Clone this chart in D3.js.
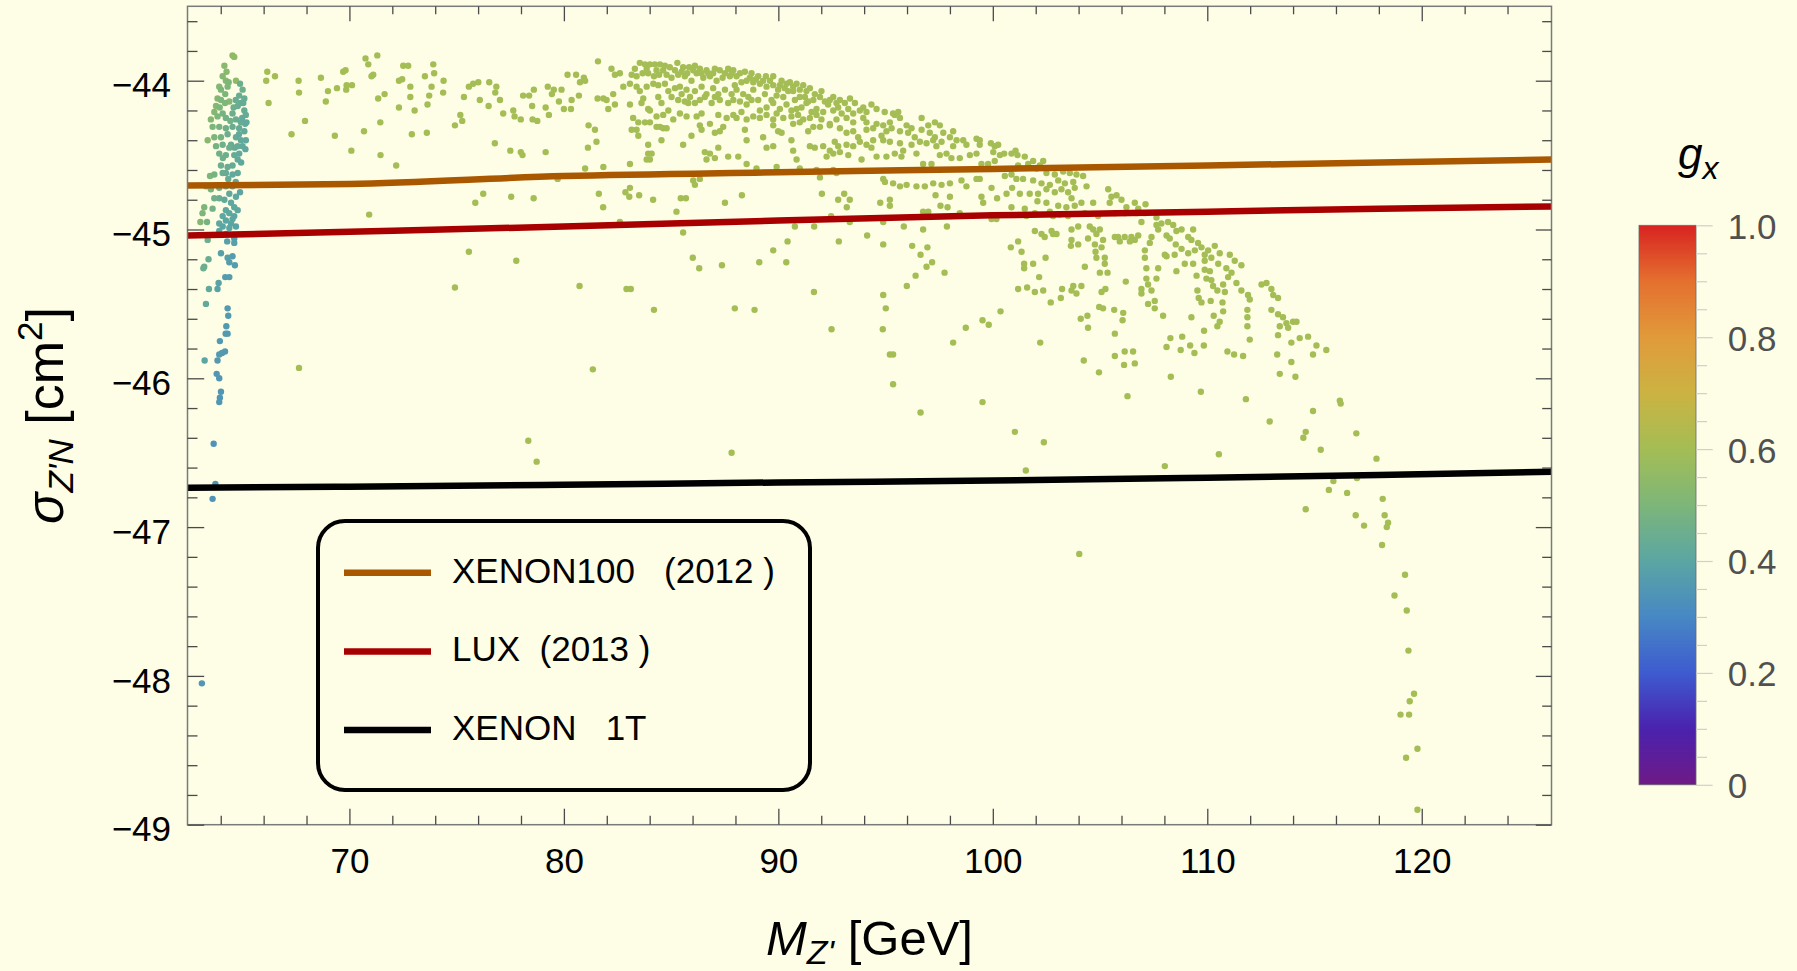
<!DOCTYPE html>
<html>
<head>
<meta charset="utf-8">
<script src="https://cdn.jsdelivr.net/npm/d3@7"></script>
<style>
  body { margin: 0; background: #fefee6; }
  svg { display: block; }
  text { font-family: "Liberation Sans", Arial, sans-serif; }
</style>
</head>
<body>
<svg id="chart" width="1797" height="971"></svg>
<script>
// axis ranges and ticks
const xRange = [62.45, 126.05];
const yRange = [-49, -43.5];
const xMajorTicks = [70, 80, 90, 100, 110, 120];
const yMajorTicks = [-44, -45, -46, -47, -48, -49];
const gTicks = [0, 0.2, 0.4, 0.6, 0.8, 1.0];
const gTickLabels = ["0", "0.2", "0.4", "0.6", "0.8", "1.0"];

// exclusion limits [M_Z' GeV, log10 sigma]
const xenon100 = [[62.45,-44.705],[70,-44.695],[80,-44.641],[90,-44.615],[100,-44.593],[110,-44.570],[118,-44.549],[126.05,-44.530]];
const lux2013 = [[62.45,-45.04],[70,-45.015],[80,-44.98],[90,-44.94],[100,-44.905],[110,-44.88],[118,-44.861],[126.05,-44.845]];
const xenon1t = [[62.45,-46.735],[70,-46.729],[80,-46.715],[90,-46.70],[100,-46.687],[110,-46.668],[118,-46.650],[126.05,-46.628]];
const legendNames = ["XENON100   (2012 )", "LUX  (2013 )", "XENON   1T"];

// scan points near the Z' ~ 2 m_chi region, [M, sigma, g_x]
const clusterPoints = [
  [64.55,-43.83,.55],[64.63,-43.84,.55],[64.17,-43.90,.53],[64.27,-43.94,.53],[64.09,-43.97,.52],[64.24,-44.00,.52],
  [64.37,-44.01,.5],[64.71,-44.00,.55],[63.93,-44.04,.52],[64.01,-44.06,.5],[64.32,-44.04,.5],[64.21,-44.09,.5],
  [63.85,-44.12,.52],[64.01,-44.13,.5],[64.40,-44.14,.52],[65.02,-44.06,.46],[64.86,-44.10,.44],[65.10,-44.12,.44],
  [64.94,-44.15,.43],[64.79,-44.17,.44],[65.10,-44.20,.43],[65.17,-44.23,.43],[63.78,-44.17,.52],[63.70,-44.21,.52],
  [63.54,-44.26,.52],[63.85,-44.24,.5],[64.09,-44.22,.48],[64.24,-44.25,.47],[64.55,-44.22,.45],[64.71,-44.26,.44],
  [64.94,-44.28,.43],[65.14,-44.29,.43],[63.62,-44.31,.5],[63.93,-44.31,.48],[64.24,-44.32,.46],[64.55,-44.31,.44],
  [64.86,-44.32,.43],[65.10,-44.34,.42],[63.39,-44.40,.53],[63.70,-44.38,.5],[64.01,-44.38,.48],[64.32,-44.36,.45],
  [64.71,-44.38,.43],[64.94,-44.40,.42],[65.17,-44.40,.42],[63.78,-44.44,.48],[64.09,-44.43,.46],[64.48,-44.43,.44],
  [64.79,-44.44,.43],[65.02,-44.44,.42],[63.93,-44.49,.46],[64.24,-44.50,.45],[64.63,-44.50,.43],[64.86,-44.49,.42],
  [64.01,-44.57,.45],[64.32,-44.58,.44],[64.55,-44.57,.43],[64.79,-44.53,.42],[64.24,-44.62,.43],[64.55,-44.63,.42],
  [64.79,-44.62,.42],[63.50,-44.64,.5],[63.70,-44.63,.48],[64.09,-44.62,.44],[63.31,-44.71,.5],[63.54,-44.73,.48],
  [63.93,-44.72,.45],[64.24,-44.71,.43],[64.55,-44.71,.42],[64.40,-44.76,.42],[63.93,-44.79,.44],[63.70,-44.79,.46],
  [64.71,-44.78,.41],[64.17,-44.80,.42],[64.48,-44.82,.41],[63.23,-44.85,.5],[63.62,-44.86,.47],[64.24,-44.87,.41],
  [64.63,-44.85,.41],[64.79,-44.87,.41],[64.40,-44.89,.41],[63.15,-44.89,.5],[64.09,-44.91,.41],[64.63,-44.91,.4],
  [64.24,-44.94,.4],[64.48,-44.96,.4],[63.93,-44.96,.41],[63.05,-44.95,.52],[63.36,-44.95,.48],[64.09,-44.98,.4],
  [64.40,-44.99,.4],[63.93,-45.01,.4],[64.71,-44.98,.39],[64.24,-45.03,.39],[64.63,-45.06,.38],[63.39,-45.07,.45],
  [64.63,-45.09,.38],[64.01,-45.16,.38],[64.32,-45.19,.38],[64.55,-45.18,.37],[63.43,-45.20,.44],[63.23,-45.25,.45],
  [63.19,-45.26,.45],[64.40,-45.22,.37],[64.66,-45.24,.37],[64.21,-45.32,.37],[64.40,-45.32,.37],[63.45,-45.40,.42],
  [63.85,-45.40,.39],[63.90,-45.36,.39],[63.31,-45.50,.42],[64.32,-45.53,.36],[64.35,-45.58,.36],[64.26,-45.65,.36],
  [64.32,-45.70,.36],[64.23,-45.70,.36],[63.96,-45.75,.36],[64.20,-45.82,.36],[64.06,-45.83,.36],[63.93,-45.84,.36],
  [63.25,-45.88,.4],[63.85,-45.88,.36],[63.81,-45.97,.35],[63.93,-46.00,.35],[64.01,-46.09,.35],[63.96,-46.13,.35],
  [63.93,-46.16,.35],[63.67,-46.44,.34],[63.75,-46.71,.34],[63.62,-46.81,.34],[63.12,-48.05,.35],
  [64.90,-44.02,.45],[65.05,-44.15,.43],[64.70,-44.13,.44],[65.20,-44.28,.42],[64.60,-44.18,.45],[65.00,-44.25,.42],
  [64.85,-44.36,.42],[65.15,-44.46,.41],[64.65,-44.45,.43],[64.95,-44.55,.41],[64.40,-44.45,.45],[64.70,-44.68,.41],
  [64.35,-44.66,.43],[64.90,-44.75,.40],[64.20,-44.15,.50],[64.45,-44.27,.47],[63.95,-44.18,.50],[64.10,-44.52,.46],
  [64.55,-44.93,.40],[64.30,-45.08,.38]
];

// all other points share one colour, g_x ~ 0.6
const mainG = 0.6;
const sparseLeft = [
  [66.17,-43.94],[66.12,-44.00],[66.53,-43.97],[66.23,-44.15],[67.30,-44.36],[67.63,-44.00],[67.65,-44.08],[67.93,-44.27],
  [67.65,-45.93],[68.67,-43.98],[69.00,-44.07],[68.90,-44.14],[69.42,-44.05],[69.32,-44.37],[69.71,-43.94],[69.82,-43.93],
  [69.87,-44.03],[69.85,-44.06],[70.12,-44.03],[70.09,-44.47],[70.68,-44.34],[70.75,-43.85],[70.88,-43.89],[71.30,-43.83],
  [70.92,-44.90],[71.03,-43.97],[71.11,-43.96],[71.34,-44.12],[71.64,-44.09],[71.44,-44.28],[71.45,-44.50],[72.18,-44.57],
  [72.31,-44.18],[72.31,-44.00],[72.46,-43.99],[72.51,-43.90],[72.74,-43.90],[72.84,-44.04],[72.84,-44.11],[73.04,-44.20],
  [72.91,-44.36],[73.61,-44.35],[73.52,-43.97],[73.64,-44.16],[73.72,-44.10],[73.83,-44.04],[73.91,-43.89],[73.95,-43.95],
  [74.39,-44.00],[74.37,-44.08],[74.92,-44.30],[75.17,-44.23],[75.26,-44.27],[75.34,-44.11],[75.57,-44.04],[75.77,-44.02],
  [76.01,-44.01],[76.08,-44.13],[76.49,-44.17],[76.52,-44.01],[76.85,-44.04],[76.80,-44.08],[76.78,-44.42],[77.02,-44.13],
  [77.17,-44.22],[77.50,-44.47],[77.64,-44.20],[77.70,-44.24],[77.99,-44.26],[77.99,-44.48],[78.07,-44.50],[78.10,-44.10],
  [78.38,-44.10],[78.60,-44.06],[78.52,-44.17],[78.54,-44.26],[78.76,-44.27],[79.15,-44.18],[79.25,-44.04],[79.30,-44.23],
  [79.15,-44.48],[79.44,-44.09],[79.53,-44.06],[79.77,-44.14],[79.89,-44.06],[80.00,-44.19],[80.17,-43.96],[80.36,-44.13],
  [80.33,-44.19],[80.57,-43.96],[80.70,-44.10],[80.75,-44.01],[80.93,-43.98],[80.99,-44.00],[80.99,-44.59],[81.12,-44.45],
  [81.15,-44.30],[81.45,-44.33],[81.52,-44.41],[81.59,-43.87],[81.57,-44.12],[79.71,-44.66],[75.87,-44.82],[76.24,-44.76],
  [77.54,-44.78],[78.59,-44.79],[75.57,-45.15],[77.78,-45.21],[74.92,-45.39],[80.73,-45.38],[81.35,-45.94],[78.34,-46.42],
  [78.73,-46.56]
];
const bandTop = [
  [82.22,-43.92],[82.38,-43.96],[82.61,-43.95],[83.54,-43.88],[83.78,-43.89],[84.01,-43.89],[84.24,-43.89],[84.48,-43.89],
  [84.71,-43.90],[84.94,-43.91],[85.29,-43.88],[85.56,-43.91],[85.84,-43.91],[86.11,-43.90],[86.34,-43.92],[86.65,-43.93],
  [87.04,-43.92],[87.27,-43.93],[87.66,-43.92],[87.90,-43.93],[88.21,-43.95],[88.44,-43.94],[88.75,-43.95],[89.06,-43.97],
  [89.42,-43.97],[89.76,-43.97],[90.15,-44.00],[90.54,-44.01],[90.85,-44.02],[91.16,-44.03],[91.47,-44.05],
  [83.16,-43.96],[83.39,-43.97],[83.67,-43.95],[83.93,-43.95],[84.20,-43.97],[84.44,-43.96],[84.79,-43.96],[85.02,-43.98],
  [85.33,-43.96],[85.64,-43.97],[85.95,-44.00],[86.19,-43.95],[86.50,-43.98],[86.81,-43.97],[87.12,-44.00],[87.40,-43.98],
  [87.74,-43.97],[87.97,-44.03],[88.28,-44.01],[88.52,-44.00],[88.83,-44.01],[89.14,-44.02],[89.45,-44.04],[89.76,-44.03],
  [89.99,-44.06],[90.30,-44.05],[90.69,-44.04],[91.00,-44.06],[91.24,-44.11],
  [82.77,-44.04],[83.08,-44.02],[83.39,-44.04],[83.54,-44.07],[83.86,-44.04],[84.17,-44.02],[84.40,-44.03],[84.71,-44.02],
  [84.87,-44.07],[85.18,-44.05],[85.41,-44.04],[85.72,-44.06],[85.88,-44.11],[86.11,-44.07],[86.42,-44.04],[86.65,-44.09],
  [86.96,-44.05],[87.20,-44.09],[87.51,-44.06],[87.82,-44.09],[88.05,-44.06],[88.36,-44.09],[88.60,-44.11],[88.83,-44.06],
  [89.06,-44.13],[89.37,-44.09],[89.68,-44.13],[89.92,-44.10],[90.23,-44.11],[90.46,-44.07],[90.77,-44.13],[91.00,-44.11],
  [91.39,-44.14],[91.63,-44.13],[91.94,-44.11],[92.17,-44.14],[92.40,-44.13],[92.87,-44.13],[93.10,-44.15],[93.57,-44.15],
  [93.96,-44.18],[94.34,-44.16],[94.58,-44.19],
  [81.84,-44.12],[81.99,-44.13],[82.30,-44.09],[82.38,-44.16],[82.07,-44.19],[83.08,-44.16],[83.70,-44.12],[83.93,-44.19],
  [84.01,-44.20],[84.40,-44.11],[85.02,-44.11],[85.33,-44.13],[85.64,-44.14],[85.80,-44.15],[86.34,-44.13],[86.57,-44.11],
  [86.89,-44.15],[87.27,-44.13],[87.66,-44.15],[87.90,-44.13],[88.21,-44.14],[88.52,-44.16],[89.14,-44.20],[89.45,-44.18],
  [89.76,-44.15],[90.07,-44.19],[90.38,-44.16],[90.61,-44.20],[91.08,-44.18],[91.31,-44.15],[91.78,-44.19],[92.09,-44.21],
  [92.56,-44.20],[92.79,-44.18],[93.26,-44.19],[93.49,-44.22],[93.80,-44.20],[94.11,-44.21],[94.96,-44.21],[95.35,-44.22],
  [95.59,-44.21],
  [83.23,-44.25],[83.47,-44.28],[83.78,-44.28],[84.01,-44.28],[84.32,-44.24],[84.48,-44.31],[84.63,-44.23],[84.87,-44.20],
  [85.10,-44.26],[85.41,-44.22],[85.72,-44.24],[86.19,-44.24],[86.42,-44.22],[86.34,-44.30],[86.81,-44.29],[87.20,-44.23],
  [87.43,-44.31],[87.59,-44.25],[87.90,-44.23],[88.05,-44.25],[88.28,-44.21],[88.52,-44.26],[88.83,-44.24],[89.14,-44.25],
  [89.45,-44.23],[89.76,-44.26],[89.92,-44.22],[90.23,-44.25],[90.61,-44.24],[90.92,-44.23],[91.16,-44.26],[91.47,-44.25],
  [91.78,-44.23],[92.01,-44.26],[92.40,-44.29],[92.71,-44.26],[92.95,-44.22],[93.18,-44.25],[93.49,-44.28],[93.96,-44.25],
  [94.11,-44.28],[94.58,-44.29],[94.89,-44.30],[95.20,-44.28],[95.43,-44.23],[95.67,-44.25],[95.98,-44.30],[96.21,-44.32],
  [96.68,-44.25],[96.99,-44.30],[97.30,-44.28],[97.53,-44.30],
  [83.16,-44.33],[83.39,-44.33],[83.47,-44.37],[84.32,-44.31],[84.63,-44.32],[84.79,-44.32],[85.95,-44.37],[86.42,-44.33],
  [87.04,-44.35],[87.27,-44.34],[88.44,-44.33],[88.52,-44.40],[89.29,-44.38],[89.76,-44.30],[89.99,-44.34],[90.15,-44.35],
  [90.69,-44.29],[91.00,-44.28],[91.39,-44.34],[91.63,-44.31],[91.94,-44.31],[92.40,-44.30],[92.87,-44.32],[93.18,-44.35],
  [93.49,-44.34],[93.72,-44.38],[94.11,-44.33],[94.42,-44.32],[94.81,-44.37],[95.04,-44.34],[95.28,-44.32],[95.67,-44.34],
  [96.05,-44.35],[96.36,-44.38],[96.68,-44.33],[97.06,-44.35],[97.30,-44.38],[97.69,-44.35],[98.00,-44.38],[98.15,-44.34],
  [98.31,-44.40],
  [84.55,-44.40],[85.56,-44.43],[83.93,-44.43],[83.93,-44.49],[84.09,-44.49],[84.01,-44.53],[86.57,-44.48],[86.81,-44.49],
  [87.20,-44.45],[87.66,-44.51],[88.13,-44.51],[89.45,-44.45],[89.76,-44.44],[90.61,-44.40],[90.69,-44.47],[91.47,-44.44],
  [91.70,-44.45],[92.09,-44.44],[92.40,-44.47],[92.63,-44.41],[92.79,-44.44],[93.18,-44.43],[93.49,-44.44],[93.80,-44.41],
  [94.11,-44.43],[94.34,-44.45],[94.42,-44.40],[94.89,-44.40],[95.20,-44.41],[95.67,-44.42],[95.82,-44.47],[96.21,-44.43],
  [96.60,-44.41],[96.91,-44.42],[97.22,-44.40],[97.37,-44.44],[97.61,-44.41],[98.15,-44.44],[98.62,-44.40],[98.77,-44.43],
  [99.24,-44.39],[99.39,-44.43],
  [81.84,-44.58],[83.08,-44.56],[83.86,-44.53],[86.65,-44.53],[87.04,-44.52],[88.52,-44.56],[90.85,-44.53],[92.25,-44.51],
  [92.56,-44.49],[92.87,-44.48],[93.26,-44.50],[93.88,-44.53],[94.58,-44.51],[95.04,-44.51],[95.43,-44.49],[95.74,-44.51],
  [96.44,-44.49],[96.75,-44.56],[97.14,-44.56],[97.53,-44.50],[97.84,-44.49],[98.07,-44.52],[98.46,-44.52],[98.93,-44.50],
  [99.24,-44.49],
  [86.03,-44.67],[86.34,-44.66],[88.98,-44.59],[89.92,-44.58],[91.00,-44.59],[91.78,-44.60],[91.94,-44.65],[92.56,-44.60],
  [92.71,-44.62],[94.89,-44.66],[94.97,-44.68],[95.35,-44.69],[95.67,-44.71],[95.98,-44.70],[96.44,-44.71],[96.83,-44.71],
  [97.22,-44.69],[97.61,-44.70],[98.00,-44.69],[98.54,-44.67],[98.77,-44.71],[99.24,-44.66],[83.08,-44.72],[86.11,-44.70],
  [83.31,-43.92],[83.86,-43.92],[84.32,-43.93],[84.63,-43.93],[85.18,-43.93],[85.49,-43.94],[85.75,-43.95],[86.03,-43.93],
  [86.42,-43.95],[86.73,-43.95],[86.96,-43.95],[87.51,-43.95],[87.82,-43.95],[88.05,-43.97],[88.67,-43.98],[88.95,-43.99],
  [89.29,-44.00],[89.61,-44.00],[90.07,-44.03],[90.38,-44.02],[90.69,-44.07],[91.31,-44.07],[91.70,-44.09],[92.01,-44.07],
  [92.56,-44.11],[92.71,-44.15],[93.34,-44.12],
  [83.62,-44.15],[84.55,-44.15],[85.49,-44.09],[86.11,-44.15],[87.04,-44.11],[88.75,-44.13],[90.85,-44.19],[91.55,-44.21],
  [92.32,-44.16]
];
const bandLow = [
  [81.63,-44.76],[81.83,-44.85],[82.87,-44.75],[83.05,-44.78],[83.51,-44.77],[84.16,-44.80],[85.25,-44.88],[85.45,-44.79],
  [85.69,-44.79],[85.56,-45.02],[86.01,-45.19],[86.31,-45.26],[87.37,-45.24],[87.51,-44.82],[88.30,-44.77],[89.11,-45.22],
  [89.76,-45.14],[90.43,-45.08],[90.37,-45.22],[90.77,-44.98],[91.67,-44.98],[91.66,-45.42],[92.03,-44.76],[92.46,-44.91],
  [92.79,-44.80],[93.07,-44.76],[93.19,-44.85],[93.33,-44.80],[93.33,-44.95],[92.82,-45.08],[92.48,-45.67],[94.14,-45.04],
  [94.75,-44.82],[95.20,-44.80],[95.20,-44.84],[94.89,-44.95],[94.89,-45.10],[94.89,-45.44],[95.01,-45.53],[94.87,-45.67],
  [95.20,-45.84],[95.35,-45.84],[95.35,-46.04],[95.85,-44.98],[95.99,-45.38],[96.24,-45.11],[96.40,-45.31],[96.63,-45.17],
  [96.95,-45.12],[96.91,-45.25],[97.17,-45.22],[96.75,-44.88],[96.99,-44.88],[96.75,-45.00],[97.56,-44.84],[97.89,-44.85],
  [98.00,-44.78],[97.33,-44.77],[97.75,-45.29],[97.86,-44.98],[98.07,-44.91],[98.46,-44.89],[98.74,-45.66],[98.15,-45.76],
  [96.63,-46.23],[82.61,-44.95],[82.92,-45.40],[83.12,-45.40],[84.20,-45.54],[87.97,-45.53],[88.89,-45.54],[87.82,-46.50]
];
const arcRight = [
  [99.39,-44.40],[99.91,-44.42],[100.09,-44.44],[100.25,-44.43],[100.02,-44.48],[100.33,-44.50],[100.53,-44.49],[100.87,-44.49],
  [101.06,-44.47],[101.15,-44.50],[101.49,-44.51],[101.88,-44.54],[102.35,-44.54],[102.19,-44.57],[99.47,-44.56],[99.78,-44.56],
  [100.09,-44.54],[101.18,-44.57],[101.65,-44.56],[102.04,-44.59],[102.50,-44.62],[102.89,-44.63],[103.28,-44.61],[103.59,-44.62],
  [103.90,-44.63],[104.21,-44.64],[99.39,-44.66],[100.56,-44.64],[100.87,-44.63],[101.10,-44.66],[101.41,-44.66],[101.88,-44.67],
  [102.27,-44.69],[102.66,-44.70],[103.05,-44.67],[103.36,-44.69],[103.75,-44.68],[104.37,-44.71],[99.94,-44.72],[99.47,-44.78],
  [100.20,-44.79],[100.64,-44.76],[100.90,-44.72],[101.26,-44.76],[101.72,-44.76],[102.11,-44.76],[102.50,-44.73],[102.89,-44.75],
  [103.20,-44.73],[103.51,-44.75],[103.82,-44.72],[103.67,-44.79],[102.08,-44.81],[102.50,-44.82],[103.05,-44.84],[103.43,-44.85],
  [103.82,-44.84],[104.13,-44.82],[104.68,-44.82],[99.55,-44.82],[100.87,-44.85],[101.49,-44.86],[101.96,-44.89],[102.81,-44.91],
  [103.12,-44.90],[99.94,-44.93],[100.17,-44.93],[101.57,-44.91],[102.66,-44.88],[103.51,-44.91],[104.29,-44.89],[104.91,-44.91],
  [105.38,-44.73],[105.53,-44.78],[105.45,-44.82],[105.77,-44.77],[106.00,-44.80],[106.23,-44.85],[106.15,-44.89],[106.62,-44.82],
  [106.78,-44.86],[107.12,-44.83],[105.69,-44.89],[106.70,-44.89],[107.09,-44.89],[106.93,-44.95],[107.63,-44.92],[107.63,-44.97],
  [107.86,-44.96],[108.17,-44.95],[108.41,-44.97],[108.56,-45.01],[108.80,-45.00],[109.11,-45.05],[109.34,-45.00],[109.26,-45.07],
  [109.57,-45.09],[109.73,-45.12],[110.04,-45.14],[110.35,-45.11],[110.58,-45.16],[111.05,-45.17],[111.28,-45.21],[111.59,-45.24],
  [107.71,-45.00],[108.10,-45.04],[108.25,-45.06],[108.53,-45.10],[108.80,-45.13],[109.11,-45.16],[109.42,-45.14],[109.88,-45.17],
  [110.19,-45.19],[110.51,-45.23],[110.89,-45.26],[111.13,-45.29],[110.97,-45.32],[111.36,-45.36],[111.59,-45.41],[111.90,-45.44],
  [112.53,-45.37],[112.76,-45.36],[112.99,-45.40],[113.07,-45.44],[113.30,-45.46],[112.99,-45.54],[113.30,-45.57],[113.53,-45.59],
  [113.69,-45.63],[114.00,-45.62],[114.16,-45.62],[113.77,-45.66],[113.38,-45.65],[113.30,-45.71],[114.31,-45.73],[114.70,-45.72],
  [115.09,-45.78],[115.55,-45.81],[114.93,-45.84],[113.92,-45.76],[113.92,-45.89],[114.11,-45.99],[113.26,-45.84],[113.38,-45.97],
  [111.98,-45.74],[111.87,-45.65],[111.87,-45.59],[111.87,-45.54],[111.98,-45.47],[111.67,-45.85],[111.25,-45.84],[110.94,-45.82],
  [110.74,-45.55],[110.71,-45.49],[110.82,-45.42],[110.47,-45.65],[110.58,-45.62],[110.30,-45.58],[110.16,-45.48],[109.85,-45.68],
  [109.84,-45.78],[109.26,-45.59],[109.54,-45.41],[109.60,-45.46],[109.73,-45.49],[109.88,-45.27],[110.12,-45.28],[109.96,-45.33],
  [110.19,-45.34],[110.27,-45.38],[110.47,-45.41],[110.74,-45.37],[109.88,-45.21],[109.34,-45.23],[109.50,-45.31],[108.95,-45.23],
  [108.56,-45.28],[108.48,-45.17],[108.10,-45.18],[108.02,-45.17],[107.71,-45.26],[107.63,-45.33],[107.24,-45.37],[107.40,-45.41],
  [106.93,-45.40],[106.93,-45.43],[107.24,-45.50],[107.55,-45.48],[107.55,-45.53],[107.94,-45.58],[107.16,-45.33],[107.16,-45.26],
  [107.09,-45.19],[107.32,-45.09],[107.40,-45.05],[107.09,-45.14],[106.78,-45.04],[106.62,-45.07],[106.46,-45.05],[106.39,-45.08],
  [106.15,-45.05],[105.84,-45.05],[105.69,-45.05],[105.92,-45.08],[106.20,-45.35],[106.08,-45.56],[106.05,-45.61],[105.69,-45.70],
  [105.66,-45.54],[105.69,-45.85],[106.12,-45.91],[106.15,-45.82],[106.54,-45.82],[106.62,-45.90],[106.28,-46.12],[105.14,-45.53],
  [104.96,-45.52],[104.41,-45.58],[104.10,-45.60],[104.44,-45.66],[104.29,-45.25],[104.99,-45.29],[105.35,-45.29],[105.07,-45.42],
  [105.25,-45.40],[105.22,-45.23],[105.22,-45.19],[104.83,-45.19],[104.79,-45.15],[105.07,-45.12],[105.14,-45.07],[104.76,-45.10],
  [104.44,-45.06],[104.68,-45.00],[104.83,-45.03],[104.99,-45.00],[104.52,-44.98],[103.98,-44.98],[103.67,-45.00],[103.67,-45.07],
  [103.64,-45.11],[103.98,-45.10],[103.75,-45.38],[103.90,-45.43],[103.67,-45.41],[104.13,-45.38],[103.23,-45.40],[102.70,-45.49],
  [103.17,-45.46],[102.97,-45.03],[102.81,-45.03],[102.74,-45.01],[102.42,-45.05],[102.27,-45.03],[101.96,-45.01],[102.46,-45.19],
  [102.16,-45.32],[101.88,-45.23],[101.46,-45.23],[101.46,-45.26],[101.96,-45.42],[102.35,-45.41],[101.60,-45.39],[101.18,-45.40],
  [101.34,-45.15],[101.18,-45.08],[100.84,-45.12],[100.36,-45.55],[99.52,-45.61],[99.81,-45.64],[102.21,-45.76],[104.24,-45.88],
  [104.95,-45.96],[99.52,-46.16],[101.03,-46.36],[102.38,-46.43],[101.54,-46.62],[104.03,-47.18],[108.28,-45.73],[108.10,-45.79],
  [108.83,-45.72],[108.76,-45.81],[109.20,-45.78],[109.40,-45.83],[108.30,-45.99],[109.70,-46.09],[108.02,-46.59],[110.54,-46.51],
  [111.80,-46.14],[112.91,-46.29],[114.93,-46.22],[114.59,-46.36],[114.48,-46.40],[115.29,-46.48],[116.18,-46.15],[116.22,-46.17],
  [116.95,-46.37],[115.67,-46.75],[115.88,-46.69],[116.52,-46.77],[116.98,-46.67],[114.59,-46.88],[116.92,-46.92],[117.31,-46.99]
];
const tail = [
  [117.89,-46.54],[118.18,-46.81],[118.27,-46.92],[118.43,-46.97],[118.37,-47.00],[118.15,-47.12],[119.22,-47.32],[118.73,-47.46],
  [119.30,-47.56],[119.38,-47.83],[119.64,-48.12],[119.44,-48.17],[119.01,-48.26],[119.41,-48.26],[119.80,-48.49],[119.27,-48.55],
  [119.80,-48.90]
];

// Mathematica-like "Rainbow" colour stops at g = 0, 0.1, ..., 1
const rainbowStops = ["#6f1a86", "#4a22ad", "#3e5bd0", "#4788c4", "#5ba6a3", "#7db679",
                      "#a4bd55", "#cbb342", "#e19a3a", "#e4702f", "#d82321"];
const limitColors = ["#aa5800", "#a80000", "#000000"];

const W = 1797, H = 971;
const plot = { left: 187.5, right: 1551.5, top: 6.3, bottom: 824.7 };
const bg = "#fefee6";

const svg = d3.select("#chart");
svg.append("rect").attr("width", W).attr("height", H).attr("fill", bg);

const x = d3.scaleLinear().domain(xRange).range([plot.left, plot.right]);
const y = d3.scaleLinear().domain(yRange).range([plot.bottom, plot.top]);
const color = d3.scaleLinear()
  .domain(rainbowStops.map((c, i) => i / (rainbowStops.length - 1)))
  .range(rainbowStops)
  .interpolate(d3.interpolateRgb);

// points
const mainPoints = [].concat(sparseLeft, bandTop, bandLow, arcRight, tail);
const pts = svg.append("g");
pts.selectAll("circle.main")
  .data(mainPoints)
  .join("circle")
  .attr("class", "main")
  .attr("cx", d => x(d[0]))
  .attr("cy", d => y(d[1]))
  .attr("r", 3.2)
  .attr("fill", color(mainG));
pts.selectAll("circle.cl")
  .data(clusterPoints)
  .join("circle")
  .attr("class", "cl")
  .attr("cx", d => x(d[0]))
  .attr("cy", d => y(d[1]))
  .attr("r", 3.2)
  .attr("fill", d => color(d[2]));

// limit curves
const line = d3.line().x(d => x(d[0])).y(d => y(d[1])).curve(d3.curveMonotoneX);
[xenon100, lux2013, xenon1t].forEach((s, i) => {
  svg.append("path")
    .attr("d", line(s))
    .attr("fill", "none")
    .attr("stroke", limitColors[i])
    .attr("stroke-width", 6.5);
});

// frame with inward ticks on all sides
svg.append("rect")
  .attr("x", plot.left).attr("y", plot.top)
  .attr("width", plot.right - plot.left).attr("height", plot.bottom - plot.top)
  .attr("fill", "none").attr("stroke", "#7a7a7a").attr("stroke-width", 1.5);

const xMinorTicks = d3.range(64, 125, 2).filter(v => v % 10 !== 0);
const yMinorTicks = d3.range(-245, -217).map(v => v / 5).filter(v => !Number.isInteger(v));

function styleAxis(g) {
  g.select(".domain").remove();
  g.selectAll(".tick line").attr("stroke", "#4a4a4a").attr("stroke-width", 1.3);
  g.selectAll(".tick text").attr("font-size", 35).attr("fill", "#000");
}

const axes = [
  [d3.axisBottom(x).tickValues(xMajorTicks).tickSizeInner(-16).tickPadding(23.5).tickFormat(d3.format("d")), `translate(0,${plot.bottom})`],
  [d3.axisBottom(x).tickValues(xMinorTicks).tickSizeInner(-9).tickFormat(""), `translate(0,${plot.bottom})`],
  [d3.axisTop(x).tickValues(xMajorTicks).tickSizeInner(-15).tickFormat(""), `translate(0,${plot.top})`],
  [d3.axisTop(x).tickValues(xMinorTicks).tickSizeInner(-8).tickFormat(""), `translate(0,${plot.top})`],
  [d3.axisLeft(y).tickValues(yMajorTicks).tickSizeInner(-16.7).tickPadding(16.5).tickFormat(d3.format("d")), `translate(${plot.left},0)`],
  [d3.axisLeft(y).tickValues(yMinorTicks).tickSizeInner(-10).tickFormat(""), `translate(${plot.left},0)`],
  [d3.axisRight(y).tickValues(yMajorTicks).tickSizeInner(-15.7).tickFormat(""), `translate(${plot.right},0)`],
  [d3.axisRight(y).tickValues(yMinorTicks).tickSizeInner(-9.3).tickFormat(""), `translate(${plot.right},0)`]
];
axes.forEach(([ax, tr]) => {
  const g = svg.append("g").attr("transform", tr).call(ax.tickSizeOuter(0));
  styleAxis(g);
});
svg.selectAll("g").filter(function () {
  return this.getAttribute("transform") === `translate(${plot.left},0)`;
}).selectAll(".tick text").attr("dy", "0.46em");

// axis titles
const xt = svg.append("text").attr("x", (plot.left + plot.right) / 2).attr("y", 955)
  .attr("text-anchor", "middle").attr("font-size", 49).attr("fill", "#000");
xt.append("tspan").attr("font-style", "italic").text("M");
xt.append("tspan").attr("font-size", 34).attr("dy", 9).attr("font-style", "italic").text("Z'");
xt.append("tspan").attr("dy", -9).style("white-space", "pre").text(" [GeV]");

const yt = svg.append("text")
  .attr("transform", `translate(62.5,${(plot.top + plot.bottom) / 2}) rotate(-90)`)
  .attr("text-anchor", "middle").attr("font-size", 52).attr("fill", "#000");
yt.append("tspan").attr("font-style", "italic").text("σ");
yt.append("tspan").attr("font-size", 35).attr("dy", 10).attr("font-style", "italic").text("Z'N");
yt.append("tspan").attr("dy", -10).style("white-space", "pre").text(" [cm");
yt.append("tspan").attr("font-size", 35).attr("dy", -21).text("2");
yt.append("tspan").attr("dy", 21).text("]");

// legend
const leg = svg.append("g");
leg.append("rect").attr("x", 318).attr("y", 521).attr("width", 492).attr("height", 269)
  .attr("rx", 27).attr("fill", bg).attr("stroke", "#000").attr("stroke-width", 4);
legendNames.forEach((name, i) => {
  const ry = 572.7 + i * 78.7;
  leg.append("line").attr("x1", 344).attr("x2", 431).attr("y1", ry).attr("y2", ry)
    .attr("stroke", limitColors[i]).attr("stroke-width", 6.5);
  leg.append("text").attr("x", 452).attr("y", ry + 10).attr("font-size", 35)
    .style("white-space", "pre").attr("fill", "#000").text(name);
});

// colour bar
const cb = { x0: 1639, x1: 1696, top: 225.3, bottom: 784.8 };
const gScale = d3.scaleLinear().domain([0, 1]).range([cb.bottom, cb.top]);
const grad = svg.append("defs").append("linearGradient")
  .attr("id", "rainbow").attr("x1", 0).attr("y1", 1).attr("x2", 0).attr("y2", 0);
rainbowStops.forEach((c, i) => {
  grad.append("stop").attr("offset", i / (rainbowStops.length - 1)).attr("stop-color", c);
});
svg.append("rect").attr("x", cb.x0).attr("y", cb.top)
  .attr("width", cb.x1 - cb.x0).attr("height", cb.bottom - cb.top)
  .attr("fill", "url(#rainbow)").attr("stroke", "#6a6a6a").attr("stroke-width", 0.8);

const gMinor = d3.range(1, 20).filter(i => i % 4 !== 0).map(i => i / 20);
const cbMajor = svg.append("g").attr("transform", `translate(${cb.x1},0)`)
  .call(d3.axisRight(gScale).tickValues(gTicks).tickSizeInner(16.7).tickSizeOuter(0)
    .tickPadding(15).tickFormat((d, i) => gTickLabels[i]));
cbMajor.select(".domain").remove();
cbMajor.selectAll(".tick line").attr("stroke", "#cfcfcf").attr("stroke-width", 1.2);
cbMajor.selectAll(".tick text").attr("font-size", 35).attr("fill", "#505050").attr("dy", "0.37em");
const cbMinor = svg.append("g").attr("transform", `translate(${cb.x1},0)`)
  .call(d3.axisRight(gScale).tickValues(gMinor).tickSizeInner(11).tickSizeOuter(0).tickFormat(""));
cbMinor.select(".domain").remove();
cbMinor.selectAll(".tick line").attr("stroke", "#cfcfcf").attr("stroke-width", 1.2);

const gt = svg.append("text").attr("x", 1678).attr("y", 169).attr("fill", "#000");
gt.append("tspan").attr("font-style", "italic").attr("font-size", 44).text("g");
gt.append("tspan").attr("font-style", "italic").attr("font-size", 32).attr("dy", 10).text("x");
</script>
</body>
</html>
